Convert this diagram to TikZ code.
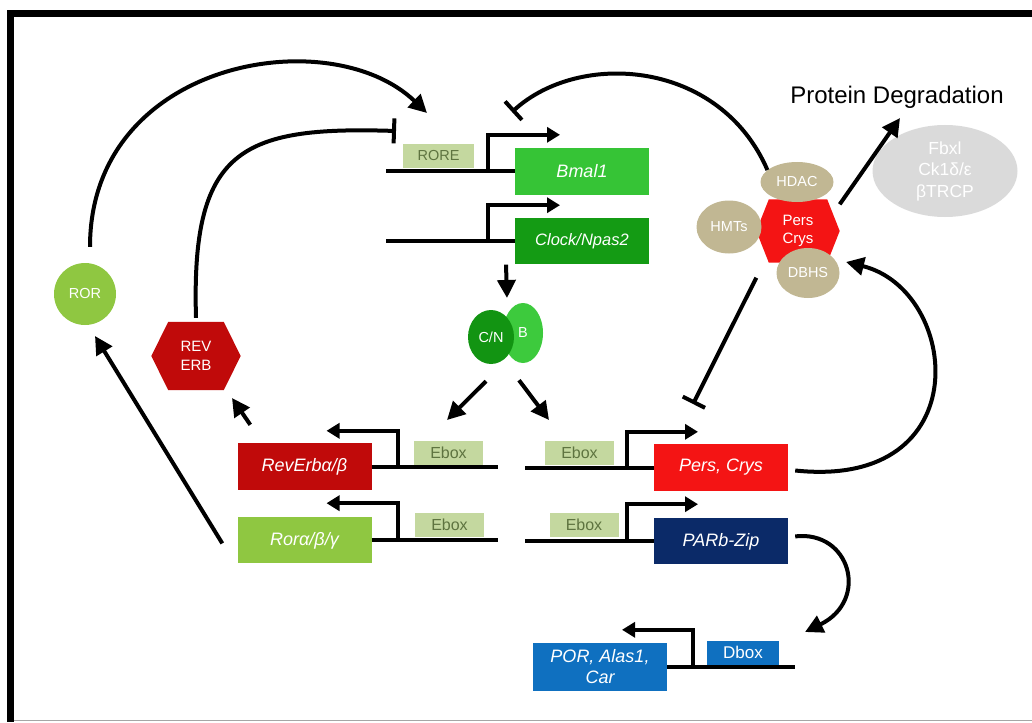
\documentclass[tikz,border=0pt]{standalone}
\usepackage{fontspec}
\setmainfont{Liberation Sans}
\usetikzlibrary{positioning,shapes.geometric,arrows.meta,calc,backgrounds}
\definecolor{bmalgreen}{HTML}{36C436}
\definecolor{clockgreen}{HTML}{149B14}
\definecolor{cngreen}{HTML}{129412}
\definecolor{bgreen}{HTML}{3DCA3D}
\definecolor{rorgreen}{HTML}{8FC741}
\definecolor{revred}{HTML}{C00A0A}
\definecolor{perred}{HTML}{F41414}
\definecolor{parnavy}{HTML}{0B2A68}
\definecolor{porblue}{HTML}{0F70C0}
\definecolor{boxolive}{HTML}{C4D89F}
\definecolor{oliveink}{HTML}{5E7440}
\definecolor{protan}{HTML}{C1B793}
\definecolor{degrey}{HTML}{DADADA}
\newcommand\genefont{\fontsize{18}{21}\selectfont\itshape}
\newcommand\sitefont{\fontsize{16}{19}\selectfont}
\newcommand\protfont{\fontsize{14.5}{18}\selectfont}
% hexagon drawn behind a named node: node, colour, corner fraction
\newcommand\hexback[3]{%
  \begin{scope}[on background layer]
    \fill[#2] (#1.west) -- ($(#1.north west)!#3!(#1.north east)$)
      -- ($(#1.north east)!#3!(#1.north west)$) -- (#1.east)
      -- ($(#1.south east)!#3!(#1.south west)$)
      -- ($(#1.south west)!#3!(#1.south east)$) -- cycle;
  \end{scope}}
\tikzset{
  gene/.style={rectangle,fill=#1,text=white,minimum width=134pt,
    minimum height=46pt,inner sep=0pt,font=\genefont},
  site/.style={rectangle,fill=boxolive,text=oliveink,minimum width=69pt,
    minimum height=24pt,inner sep=0pt,font=\sitefont},
  prot/.style={ellipse,fill=#1,text=white,inner sep=0pt,font=\protfont},
  dna/.style={line width=4pt},
  prom/.style={line width=4pt,-{Triangle[length=13pt,width=15pt]}},
  act/.style={line width=4pt,-{Triangle[length=18pt,width=18pt]}},
  inh/.style={line width=4pt,-{Bar[width=25pt]}},
}

\begin{document}
\begin{tikzpicture}[x=1pt,y=-1pt]
  \useasboundingbox (0,0) rectangle (1032,722);
  % frame
  \fill (7,10) rectangle (14,722);
  \fill (7,10) rectangle (1032,17);
  \draw[black!35,line width=1.2pt] (14,720.5) -- (1032,720.5);

  % clock genes, top
  \node[gene=bmalgreen,minimum height=47pt] (bmal) at (582,171.5) {Bmal1};
  \node[gene=clockgreen,below=23pt of bmal,
    font=\fontsize{16.5}{19}\selectfont\itshape] (clock) {Clock/Npas2};
  \node[site,minimum width=71pt,anchor=south,
    font=\fontsize{14.5}{17}\selectfont] (rore) at (438.5,168) {RORE};
  \draw[dna] (bmal.west) -- ++(-129,0);
  \draw[prom] ([xshift=-27pt]bmal.west) |- ([xshift=-22pt,yshift=13pt]bmal.north);
  \draw[dna] (clock.west) -- ++(-129,0);
  \draw[prom] ([xshift=-27pt]clock.west) |- ([xshift=-22pt,yshift=13pt]clock.north);

  % CLOCK/BMAL1 complex
  \node[prot=bgreen,minimum width=40pt,minimum height=60pt] (b) at (523,333) {B};
  \node[prot=cngreen,minimum width=46pt,minimum height=54pt] (cn) at (491,337) {C/N};
  \coordinate (cntop) at (507,298);
  \coordinate (tipl) at (447,420);
  \coordinate (tipr) at (549,420);
  \draw[act] ([xshift=-76pt]clock.south) -- (cntop);
  \draw[act] ([shift={(-5pt,-17pt)}]cn.south) -- (tipl);
  \draw[act] ([shift={(-4pt,-17pt)}]b.south) -- (tipr);

  % E-box targets, left
  \node[gene=revred,minimum height=47pt] (reverb) at (304.5,466.5) {RevErbα/β};
  \node[gene=rorgreen,below=27pt of reverb] (rora) {Rorα/β/γ};
  \node[site,anchor=south] (ebrev) at (448.5,465) {Ebox};
  \node[site,anchor=south] (ebror) at (449.5,537) {Ebox};
  \draw[dna] (reverb.east) -- ++(126,0);
  \draw[prom] ([xshift=26pt]reverb.east) |- ([xshift=22pt,yshift=12pt]reverb.north);
  \draw[dna] (rora.east) -- ++(126,0);
  \draw[prom] ([xshift=26pt]rora.east) |- ([xshift=22pt,yshift=14pt]rora.north);

  % E-box targets, right
  \node[gene=perred,minimum height=47pt] (pers) at (721,467.5) {Pers, Crys};
  \node[gene=parnavy,below=27pt of pers] (parb) {PARb-Zip};
  \node[site,anchor=south] (ebper) at (579.5,465) {Ebox};
  \node[site,anchor=south] (ebpar) at (584,537) {Ebox};
  \draw[dna] (pers.west) -- ++(-129,0);
  \draw[prom] ([xshift=-27pt]pers.west) |- ([xshift=-23pt,yshift=12pt]pers.north);
  \draw[dna] (parb.west) -- ++(-129,0);
  \draw[prom] ([xshift=-27pt]parb.west) |- ([xshift=-23pt,yshift=14pt]parb.north);

  % D-box target
  \node[gene=porblue,minimum height=48pt,align=center,
    font=\fontsize{18}{21}\selectfont\itshape] (por) at (600,667) {POR, Alas1,\\Car};
  \node[site,fill=porblue,text=white,minimum width=72pt,anchor=south,
    font=\fontsize{17}{20}\selectfont] (dbox) at (743,665) {Dbox};
  \draw[dna] (por.east) -- ++(128,0);
  \draw[prom] ([xshift=26pt]por.east) |- ([xshift=22pt,yshift=13pt]por.north);

  % ROR and REV-ERB proteins
  \node[prot=rorgreen,circle,minimum size=62pt] (ror) at (85,294) {ROR};
  \node[minimum width=89pt,minimum height=68pt,text=white,align=center,
    font=\fontsize{15}{19}\selectfont] (rev) at (196,356) {REV\\ERB};
  \hexback{rev}{revred}{.19}

  % PER/CRY complex
  \node[minimum width=83pt,minimum height=63pt,text=white,align=center,
    font=\fontsize{15}{18}\selectfont] (pc) at (798,231) {Pers\\Crys};
  \hexback{pc}{perred}{.15}
  \node[prot=protan,minimum width=73pt,minimum height=40pt] (hdac) at (797,182) {HDAC};
  \node[prot=protan,minimum width=65pt,minimum height=53pt] (hmts) at (729,227) {HMTs};
  \node[prot=protan,minimum width=63pt,minimum height=50pt] (dbhs) at (808,273) {DBHS};
  \node[prot=degrey,minimum width=145pt,minimum height=92pt,align=center,
    font=\fontsize{17.5}{21.5}\selectfont] (deg) at (945,171) {Fbxl\\Ck1δ/ε\\βTRCP};
  \node[font=\fontsize{24}{28}\selectfont] (title) at (897,97) {Protein Degradation};

  % feedback
  \coordinate (roreup) at (427,113);
  \coordinate (rorebar) at (396,131);
  \coordinate (bmalbar) at (512,112);
  \coordinate (persbar) at (693,404);
  \coordinate (dbhsin) at (846,262);
  \coordinate (dboxin) at (805,632);
  \coordinate (degtip) at (900,118);
  \coordinate (rortip) at (95,336);
  \coordinate (revtip) at (232,398);
  \draw[act] ([shift={(5pt,16pt)}]ror.north) .. controls (90,60) and (330,20) .. (roreup);
  \draw[inh] ([yshift=4pt]rev.north) .. controls (191,150) and (240,126) .. (rorebar);
  \draw[inh] (hdac.158) .. controls (720,60) and (580,50) .. (bmalbar);
  \draw[inh] ([yshift=-15pt]pc.south west) -- (persbar);
  \draw[act] ([shift={(7pt,-3pt)}]pers.east) .. controls (980,490) and (960,290) .. (dbhsin);
  \draw[act] ([shift={(7pt,5pt)}]parb.east) .. controls (850,530) and (870,600) .. (dboxin);
  \draw[act] ([yshift=-5pt]pc.north east) -- (degtip);
  \draw[act] ([shift={(-15pt,-3pt)}]rora.west) -- (rortip);
  \draw[act] ([shift={(13pt,18pt)}]reverb.north west) -- (revtip);
\end{tikzpicture}
\end{document}
